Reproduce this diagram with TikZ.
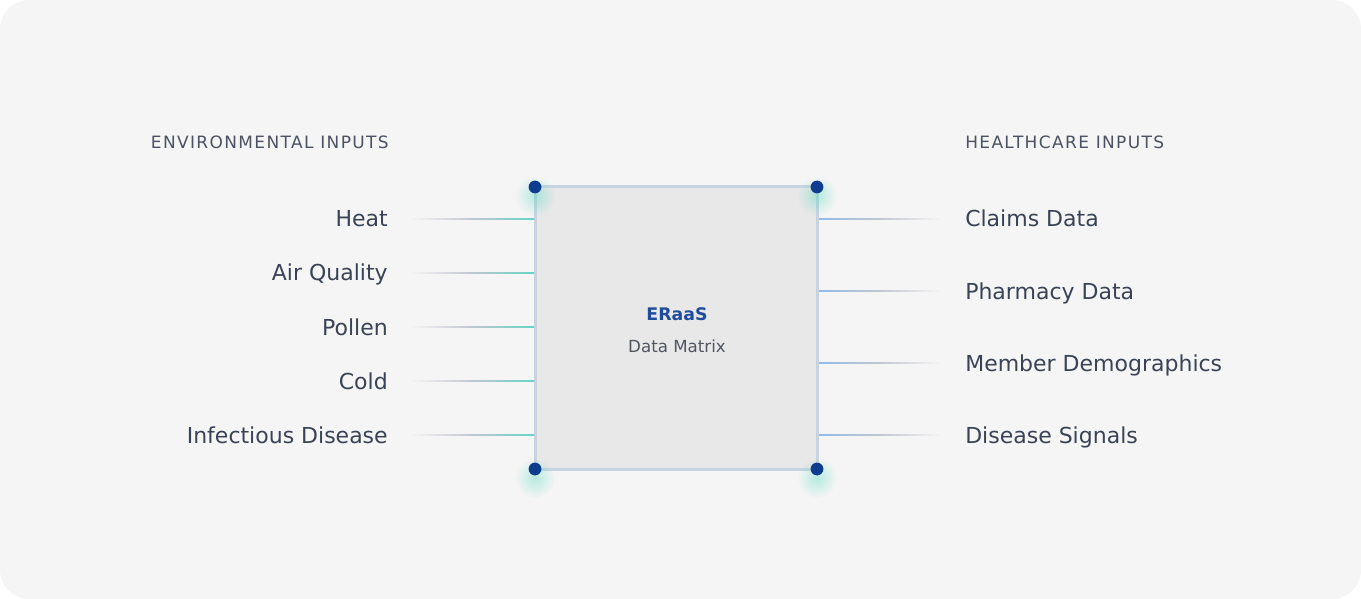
\documentclass[tikz,border=0pt]{standalone}
\usepackage{fontspec}
\setmainfont{DejaVu Sans}
\newfontfamily\capsfont[LetterSpace=8]{DejaVu Sans}
\usepackage{tikz}
\usetikzlibrary{calc, fadings}
\usepackage{xcolor}
\definecolor{panelgray}{HTML}{F5F5F5}
\definecolor{boxfill}{HTML}{E8E8E8}
\definecolor{boxedge}{HTML}{C9D4E2}
\definecolor{dotblue}{HTML}{0E3D8F}
\definecolor{glowteal}{HTML}{3FD8B8}
\definecolor{envteal}{HTML}{62D6C5}
\definecolor{hcblue}{HTML}{94BAE8}
\definecolor{linegray}{HTML}{C2C6CE}
\definecolor{labelslate}{HTML}{3A4356}
\definecolor{headgray}{HTML}{4B5263}
\definecolor{titleblue}{HTML}{1F4C9E}
\definecolor{subgray}{HTML}{50555F}
\tikzfading[name=glowfade, inner color=transparent!65, outer color=transparent!100]

\begin{document}
\begin{tikzpicture}[x=0.75pt, y=-0.75pt,
  panel/.style={fill=panelgray, rounded corners=22pt},
  matrixbox/.style={draw=boxedge, fill=boxfill, line width=2.25pt,
    minimum width=211.5pt, minimum height=211.5pt, inner sep=0pt,
    outer sep=0pt},
  head/.style={font=\capsfont\fontsize{12.75pt}{15pt}\selectfont,
    text=headgray, inner sep=0pt, text height=9.3pt, text depth=0pt},
  lbl/.style={font=\fontsize{16.5pt}{20pt}\selectfont, text=labelslate,
    inner sep=0pt, text height=12pt, text depth=0pt},
  title/.style={font=\bfseries\fontsize{13pt}{16pt}\selectfont,
    text=titleblue, inner sep=0pt, text height=9.5pt, text depth=0pt},
  sub/.style={font=\fontsize{12.5pt}{15pt}\selectfont, text=subgray,
    inner sep=0pt, text height=9.1pt, text depth=0pt},
  envline/.style={left color=panelgray, right color=envteal,
    middle color=linegray},
  hcline/.style={left color=hcblue, right color=panelgray,
    middle color=linegray},
  glow/.style={fill=glowteal, path fading=glowfade},
  corner/.style={fill=dotblue}
]
  % Panel
  \fill[white] (0,0) rectangle (1361,599);
  \useasboundingbox (0,0) rectangle (1361,599);
  \fill[panel] (0,0) rectangle (1361,599);

  % Data matrix
  \node[matrixbox] (box) at (676,328) {};
  \node[title] (eraas) at (677,314) {ERaaS};
  \node[sub] (matrix) at (677,346) {Data Matrix};

  % Headers
  \node[head, anchor=east] (envhead) at (389,142) {ENVIRONMENTAL INPUTS};
  \node[head, anchor=west] (hchead) at (965,142) {HEALTHCARE INPUTS};

  % Environmental inputs
  \node[lbl, anchor=east] (heat)   at (388,219) {Heat};
  \node[lbl, anchor=east] (air)    at (388,273) {Air Quality};
  \node[lbl, anchor=east] (pollen) at (388,327) {Pollen};
  \node[lbl, anchor=east] (cold)   at (388,381) {Cold};
  \node[lbl, anchor=east] (infect) at (388,435) {Infectious Disease};

  % Healthcare inputs
  \node[lbl, anchor=west] (claims)   at (965,219) {Claims Data};
  \node[lbl, anchor=west] (pharmacy) at (965,291) {Pharmacy Data};
  \node[lbl, anchor=west] (member)   at (965,363) {Member Demographics};
  \node[lbl, anchor=west] (signals)  at (965,435) {Disease Signals};

  % Environmental connectors
  \shade[envline] ($(heat.east)+(22,-0.75)$) rectangle ($(box.west |- heat.east)+(-1,0.75)$);
  \shade[envline] ($(air.east)+(22,-0.75)$) rectangle ($(box.west |- air.east)+(-1,0.75)$);
  \shade[envline] ($(pollen.east)+(22,-0.75)$) rectangle ($(box.west |- pollen.east)+(-1,0.75)$);
  \shade[envline] ($(cold.east)+(22,-0.75)$) rectangle ($(box.west |- cold.east)+(-1,0.75)$);
  \shade[envline] ($(infect.east)+(22,-0.75)$) rectangle ($(box.west |- infect.east)+(-1,0.75)$);

  % Healthcare connectors
  \shade[hcline] ($(box.east |- claims.west)+(2,-0.75)$) rectangle ($(claims.west)+(-24,0.75)$);
  \shade[hcline] ($(box.east |- pharmacy.west)+(2,-0.75)$) rectangle ($(pharmacy.west)+(-24,0.75)$);
  \shade[hcline] ($(box.east |- member.west)+(2,-0.75)$) rectangle ($(member.west)+(-24,0.75)$);
  \shade[hcline] ($(box.east |- signals.west)+(2,-0.75)$) rectangle ($(signals.west)+(-24,0.75)$);

  % Corner glows
  \fill[glow] ($(box.north west)+(0,9)$) circle (15pt);
  \fill[glow] ($(box.north east)+(0,9)$) circle (15pt);
  \fill[glow] ($(box.south west)+(0,9)$) circle (15pt);
  \fill[glow] ($(box.south east)+(0,9)$) circle (15pt);

  % Corner dots
  \fill[corner] (box.north west) circle (4.8pt);
  \fill[corner] (box.north east) circle (4.8pt);
  \fill[corner] (box.south west) circle (4.8pt);
  \fill[corner] (box.south east) circle (4.8pt);
\end{tikzpicture}
\end{document}
